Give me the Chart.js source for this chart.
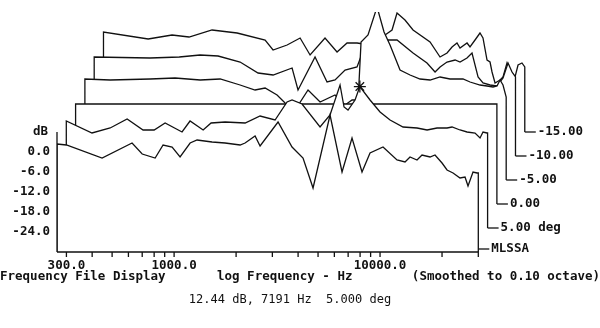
<!DOCTYPE html>
<html>
<head>
<meta charset="utf-8">
<script src="https://cdn.jsdelivr.net/npm/chart.js@4.4.1/dist/chart.umd.min.js"></script>
<style>
  body { margin:0; background:#fff; }
  #wrap { width:600px; height:328px; position:relative; }
</style>
</head>
<body>
<div id="wrap"><canvas id="chart"></canvas></div>
<script>
// Slices, front to back (front slice carries the MLSSA tag)
const sliceLabels = ['MLSSA', '5.00 deg', '0.00', '-5.00', '-10.00', '-15.00'];

// Frequency (Hz) and level (dB) of each slice
const freq0 = [270,300,447,625,700,809,884,978,1069,1196,1293,1529,1768,2092,2211,2473,2615,3197,3738,4227,4728,5718,6538,7310,8175,8940,10340,12090,13225,13980,15120,15990,17485,18490,20000,21150,22620,24450,25860,26740,28280,29600,30000];
const db0   = [2.4,2.1,-1.8,2.7,-0.6,-1.8,2.1,1.5,-1.5,2.7,3.6,3.0,2.7,2.1,2.7,4.8,1.8,9.0,1.5,-1.8,-10.8,11.1,-6.0,4.2,-6.0,-0.3,1.5,-2.4,-3.0,-1.5,-2.4,-0.9,-1.5,-0.9,-3.3,-5.4,-6.3,-7.8,-7.5,-10.2,-6.0,-6.3,-6.3];

const freq1 = [270,360,441,533,637,721,815,985,1077,1247,1363,1594,1994,2357,2787,3187,3370,3768,4608,5153,5763,6026,6300,6815,7191,8060,9012,10080,11655,13630,15250,17050,19060,20160,22040,23840,26070,27570,28500,29800,30000];
const db1   = [2.1,-1.5,0.0,2.7,-0.6,-0.6,1.5,-1.2,2.1,-0.6,1.5,1.8,1.5,3.6,2.4,7.8,8.4,7.2,0.3,3.9,12.9,6.3,5.4,8.4,12.44,8.4,4.8,2.4,0.3,0.0,-0.6,0.0,0.0,0.3,-0.6,-1.2,-1.5,-3.0,-1.2,-1.5,-1.5];

const freq2 = [270,1000,10000,30000];
const db2   = [0,0,0,0];

const freq3 = [270,358,560,740,980,1225,1531,1810,2025,2315,2532,2830,3273,3745,4425,4950,5355,5730,5920,6400,7080,7655,8185,9155,10240,11450,12810,14320,16010,18510,20030,22400,24210,25890,27080,28010,28950,30000];
const db3   = [0.3,0.0,0.3,0.6,0.0,0.3,-1.5,-3.0,-2.4,-4.5,-6.9,-9.0,-3.0,-6.6,-4.5,-7.5,-6.0,-6.0,11.4,13.5,21.9,14.4,10.5,3.0,1.5,0.3,0.0,0.9,0.3,0.3,-0.6,-1.5,-1.8,-2.1,-1.8,0.0,-1.5,-5.1];

const freq4 = [270,504,699,882,1079,1380,1687,1996,2468,2637,3190,3648,3990,4462,5100,5770,6240,6746,7215,7977,9543,11155,12205,12910,13950,15270,16140,17445,18450,19740,20870,22580,24400,26100,27600,28860,30000];
const db4   = [-0.3,-0.6,-0.3,0.3,0.0,-1.8,-5.1,-5.7,-3.6,-10.2,-0.3,-7.8,-7.2,-4.2,-3.3,5.4,1.8,1.2,4.8,4.8,0.9,-2.1,-4.8,-3.3,-1.8,-1.2,-1.8,-0.6,0.9,-6.3,-8.1,-8.7,-9.0,-6.6,-2.1,-4.8,-6.3];

const freq5 = [270,445,581,703,909,1203,1645,1798,2104,2433,2720,3214,3677,4112,4598,5318,6288,6800,7190,7860,8600,10400,11630,12580,13300,14060,14540,15730,16260,17200,18180,18800,19670,20340,20800,21510,22750,23520,24590,25430,26900,27820,29070,30000];
const db5   = [0.0,-2.1,-0.9,-1.5,0.6,-0.3,-2.4,-5.4,-3.9,-1.8,-6.9,-1.8,-6.0,-3.3,-3.3,-3.9,-0.9,0.6,5.7,3.6,0.6,-3.0,-7.5,-6.3,-4.5,-3.3,-4.8,-3.3,-4.5,-2.4,-0.3,-1.8,-8.4,-9.0,-12.0,-15.3,-14.4,-13.5,-9.3,-11.4,-13.5,-9.9,-9.3,-10.5];

// Axis ticks
const xTickFreqs  = [300,400,500,600,700,800,900,1000,2000,3000,4000,5000,6000,7000,8000,9000,10000,20000,30000];
const xLabelFreqs = [300,1000,10000];
const yTickValues = [0,-6,-12,-18,-24];

// Cursor readout
const cursorFreq = 7191, cursorDb = 12.44, cursorSlice = 1;

// Waterfall geometry
const dbFloor = -30;           // bottom of every slice
const sliceStepDb = 7.2;       // vertical offset per slice
const sliceStepX = Math.pow(10, 9.3 / 206); // horizontal (log) offset per slice

const slices = [[freq0,db0],[freq1,db1],[freq2,db2],[freq3,db3],[freq4,db4],[freq5,db5]];

const sliceDatasets = slices.map(([fr, db], k) => {
  const sx = Math.pow(sliceStepX, k);
  const base = dbFloor + k * sliceStepDb;
  const pts = [{x: fr[0] * sx, y: base}];
  fr.forEach((f, i) => pts.push({x: f * sx, y: db[i] + k * sliceStepDb}));
  pts.push({x: fr[fr.length - 1] * sx, y: base});
  return {
    data: pts,
    borderColor: '#111',
    borderWidth: 1.3,
    backgroundColor: '#fff',
    fill: {value: base},
    pointRadius: 0,
    tension: 0
  };
});

const cursorDataset = {
  data: [{x: cursorFreq * Math.pow(sliceStepX, cursorSlice), y: cursorDb + cursorSlice * sliceStepDb}],
  showLine: false,
  pointStyle: 'star',
  pointRadius: 6,
  borderColor: '#111',
  borderWidth: 1.3,
  fill: false
};

const boldFont = 'bold 12.5px "DejaVu Sans Mono", monospace';

const decorations = {
  id: 'decorations',
  afterDraw(chart) {
    const {ctx, scales: {x, y}} = chart;
    const y0 = y.getPixelForValue(dbFloor);
    const xl = x.getPixelForValue(freq0[0]);
    const xr = x.getPixelForValue(freq0[freq0.length - 1]);
    ctx.save();
    ctx.strokeStyle = '#111';
    ctx.fillStyle = '#111';
    ctx.lineWidth = 1.3;

    // x axis
    ctx.beginPath();
    ctx.moveTo(xl, y0); ctx.lineTo(xr, y0);
    xTickFreqs.forEach(f => {
      const px = x.getPixelForValue(f);
      ctx.moveTo(px, y0); ctx.lineTo(px, y0 + 5);
    });
    // y axis
    ctx.moveTo(xl, y.getPixelForValue(6)); ctx.lineTo(xl, y0);
    ctx.stroke();

    ctx.font = boldFont;
    ctx.textBaseline = 'middle';
    ctx.textAlign = 'center';
    xLabelFreqs.forEach(f => ctx.fillText(f.toFixed(1), x.getPixelForValue(f), y0 + 14));

    ctx.textAlign = 'right';
    ctx.fillText('dB', xl - 9, y.getPixelForValue(6));
    yTickValues.forEach(v => ctx.fillText(v.toFixed(1), xl - 7, y.getPixelForValue(v)));

    // slice tags on the right
    ctx.textAlign = 'left';
    slices.forEach(([fr], k) => {
      const px = x.getPixelForValue(fr[fr.length - 1] * Math.pow(sliceStepX, k));
      let py = y.getPixelForValue(dbFloor + k * sliceStepDb);
      if (k === 0) py -= 3;
      ctx.beginPath();
      ctx.moveTo(px, py); ctx.lineTo(px + 11, py);
      ctx.stroke();
      ctx.fillText(sliceLabels[k], px + 13, py);
    });

    // footer texts
    ctx.fillText('Frequency File Display', 0, y0 + 25);
    ctx.fillText('log Frequency - Hz', 217, y0 + 25);
    ctx.textAlign = 'right';
    ctx.fillText('(Smoothed to 0.10 octave)', 600, y0 + 25);
    ctx.textAlign = 'center';
    ctx.font = '12px "DejaVu Sans Mono", monospace';
    ctx.fillText(cursorDb.toFixed(2) + ' dB, ' + cursorFreq + ' Hz  5.000 deg', 290, y0 + 48);
    ctx.restore();
  }
};

new Chart(document.getElementById('chart'), {
  type: 'line',
  data: { datasets: [cursorDataset, ...sliceDatasets] },
  options: {
    responsive: true,
    maintainAspectRatio: false,
    animation: false,
    devicePixelRatio: 1,
    layout: { padding: { left: 57, right: 40, top: 12, bottom: 76 } },
    plugins: { legend: { display: false }, tooltip: { enabled: false } },
    scales: {
      x: { type: 'logarithmic', min: 270, max: 74790, display: false },
      y: { type: 'linear', min: -30, max: 42, display: false }
    }
  },
  plugins: [decorations]
});
</script>
</body>
</html>
